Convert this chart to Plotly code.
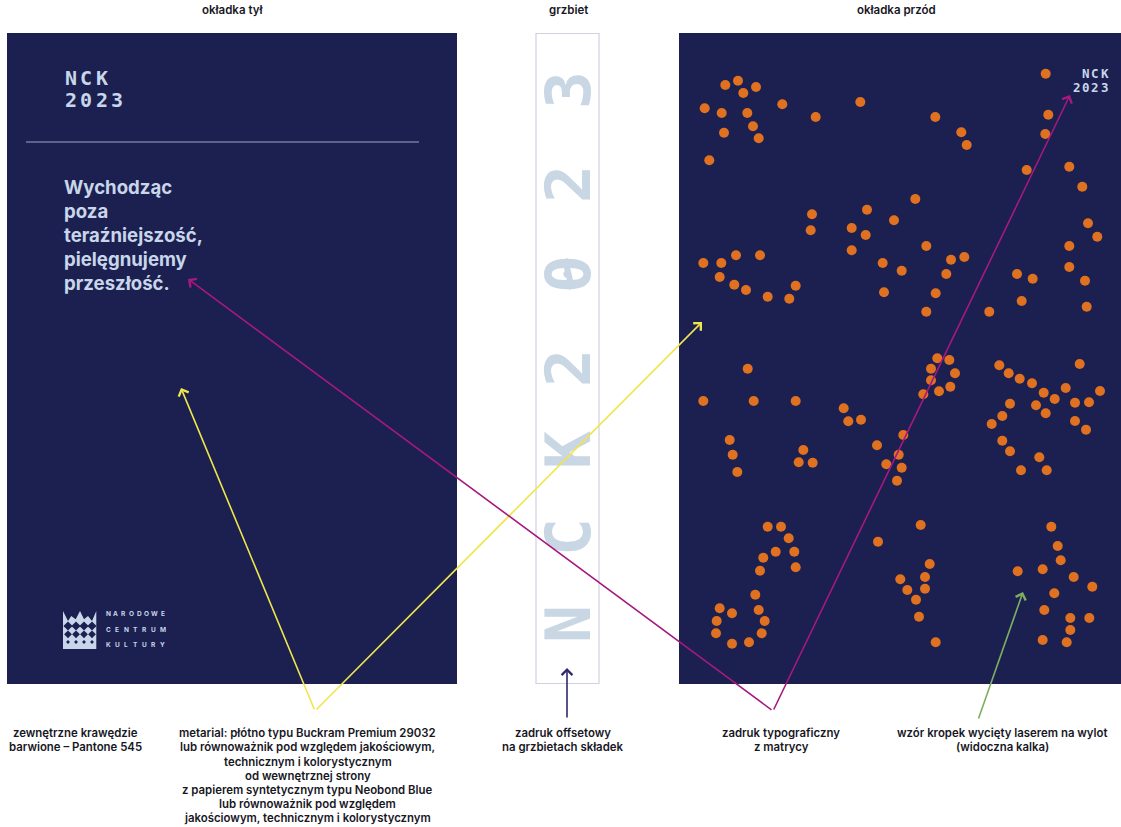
import plotly.graph_objects as go

dots_x = [725.3,738,756,743.3,704.7,721.7,747.3,782.3,815.7,860.3,753,724,758.7,709.3,935.3,961.3,966.7,1045.7,1048.3,1045.3,1026.7,1069.3,1082.3,915.3,867,894,851.7,865.7,851.7,812,810.7,1088,1097.3,1069.3,1069.3,1085,1086.7,926.3,964.3,951,946.3,935.7,926.3,989.3,882.7,901.7,884,1017,1032.7,1021.7,703.3,721.3,736,760,719.7,734.3,746,767.7,789.3,795.7,
 747.7,703.3,753.7,795.7,843.7,848.3,861,729.7,732.7,737.3,803.3,798.7,812.7,877,903.3,898.7,886.3,901.7,897,937.3,949.3,931,955,931,950.3,939,923.3,999.3,1008.7,1019.7,1032,1043.7,1054.7,1065.7,1079.7,1100,1075,1089,1036,1045.7,1010,1002.3,991.7,1075,1086,1002.3,1010,1021,1039.3,1046.7,
 767.7,781,788.7,775.7,794.3,763.3,760,795.7,755.3,719.7,732,758.7,764.7,716.7,716,761.7,732,749,
 920.7,878,929.7,925,925,900.3,907.3,916,919,935.7,
 1051.3,1057.7,1060.7,1042.7,1017.7,1073.7,1092.3,1054.3,1044.3,1070.3,1089.3,1070.3,1042.7,1066.7]
dots_y = [85,80.7,87,93,108.3,113,113,104.3,117,102,126.3,132.7,138.3,160.3,117,132.3,145,73.7,114.7,134,170,166.7,186.7,199,209.7,220.3,228,235,250.3,214.3,230.3,223.3,236.7,246,267,280.7,306.7,246,257,259.7,274,293.3,311.7,311.7,263,270.7,292.3,274,278.7,301,263,263,255.3,255.3,277,284.7,290,296.7,298.7,285.7,
 368.7,401,401,401,408.3,421.3,419.7,440,454.7,472,450,462.3,462.7,445.3,435,454.7,464.3,467.7,480.7,358.3,360,368.7,373.3,380.3,386.7,391.3,394.3,365.3,373.3,378.7,383.3,392.7,399,388,364,391,402.7,402.3,405.3,413.3,403.7,416,424,421,429.7,440.7,451.3,470.3,457.3,470.3,
 526.7,526.7,538.3,551.7,551.7,557.7,570.7,567.3,594.7,608.3,613.3,610,621,621,633.3,633.3,643.7,642.3,
 525,541.7,564,577,588.7,579.3,590,599.7,616.7,642.3,
 526.7,546,560.3,569.3,571.3,577,586.7,593.3,610,618,618,630,640,642.3]

headers = ["okładka tył", "grzbiet", "okładka przód"]
header_x = [232, 568, 896]
notes = [
    ["zewnętrzne krawędzie", "barwione – Pantone 545"],
    ["metarial: płótno typu Buckram Premium 29032", "lub równoważnik pod względem jakościowym,",
     "technicznym i kolorystycznym", "od wewnętrznej strony",
     "z papierem syntetycznym typu Neobond Blue", "lub równoważnik pod względem",
     "jakościowym, technicznym i kolorystycznym"],
    ["zadruk offsetowy", "na grzbietach składek"],
    ["zadruk typograficzny", "z matrycy"],
    ["wzór kropek wycięty laserem na wylot", "(widoczna kalka)"],
]
note_x = [75.5, 307.5, 563, 781, 1002.5]
note_line_y = [733, 747, 761.5, 775.5, 789.5, 803.5, 817.5]
tagline = ["Wychodząc", "poza", "teraźniejszość,", "pielęgnujemy", "przeszłość."]
tagline_y = [187, 211, 234.5, 258.5, 283]
spine_letters = ["N", "C", "K", "2", "0", "2", "3"]
spine_y = [624, 537, 450, 368, 274, 184, 90]
logo_words = ["NARODOWE", "CENTRUM", "KULTURY"]
logo_word_y = [614, 630, 645]
logo_outline_x = [63, 68, 71.3, 75.7, 80, 84, 88, 92, 96.3, 96.3, 63, 63]
logo_outline_y = [611, 621, 616, 619.3, 611, 619.3, 616, 621, 611, 649, 649, 611]
logo_hole_x = [68, 76, 84, 92]
logo_hole_rows = [626, 634.3, 642]
logo_hole_sizes = [7, 6, 3]

arrows = [
    ("#F0E64B", [(315, 711), (181, 388)]),
    ("#F0E64B", [(315, 711), (702, 322)]),
    ("#A6197F", [(773, 711), (188, 279)]),
    ("#A6197F", [(773, 711), (1070, 95)]),
    ("#7FAE60", [(978, 720), (1023, 592)]),
    ("#2D2A70", [(567, 719), (567, 668)]),
]

NAVY = "#1B2050"
PALE = "#C9D6EA"
SPINE = "#C9D6E4"
INK = "#17171F"
SANS = "Inter"
MONO = "DejaVu Sans Mono"

fig = go.Figure()
shapes = [
    dict(type="rect", x0=7, x1=457, y0=33, y1=684, fillcolor=NAVY, line_width=0, layer="below"),
    dict(type="rect", x0=679, x1=1121, y0=33, y1=684, fillcolor=NAVY, line_width=0, layer="below"),
    dict(type="rect", x0=536, x1=599, y0=33.5, y1=683.5, fillcolor="white",
         line=dict(color="#CDD2E2", width=1.2), layer="below"),
    dict(type="line", x0=26, x1=419, y0=142, y1=142, line=dict(color="#74789E", width=1.4), layer="below"),
    dict(type="line", x0=565, x1=572, y0=259, y1=289, line=dict(color=SPINE, width=6), layer="above"),
]
fig.add_trace(go.Scatter(x=logo_outline_x, y=logo_outline_y, mode="lines", fill="toself",
                         fillcolor=PALE, line=dict(width=0), hoverinfo="skip"))
for row, size in zip(logo_hole_rows, logo_hole_sizes):
    fig.add_trace(go.Scatter(x=logo_hole_x, y=[row] * 4, mode="markers", hoverinfo="skip",
                             marker=dict(symbol="diamond", size=size, color=NAVY)))
fig.add_trace(go.Scatter(x=dots_x, y=dots_y, mode="markers", hoverinfo="skip",
                         marker=dict(size=10, color="#DF7120", line_width=0)))

ann = []
def text(x, y, s, size, color=INK, weight=600, family=SANS, xanchor="center", yanchor="middle", angle=0, align="center"):
    ann.append(dict(x=x, y=y, xref="x", yref="y", text=s, showarrow=False, textangle=angle,
                    xanchor=xanchor, yanchor=yanchor, align=align,
                    font=dict(family=family, size=size, color=color, weight=weight)))

def tracked(x0, y, s, pitch, size, color=PALE, family=MONO, weight=700):
    for i, ch in enumerate(s):
        text(x0 + i * pitch, y, ch, size, color=color, family=family, weight=weight)

for s, x in zip(headers, header_x):
    text(x, 10, s, 11.5)
for lines, x in zip(notes, note_x):
    for s, y in zip(lines, note_line_y):
        text(x, y, s, 11.4)

tracked(70.5, 78, "NCK", 15.6, 20)
tracked(70.5, 100, "2023", 15.6, 20)
tracked(1086, 73, "NCK", 9.4, 12.5)
tracked(1076.5, 87, "2023", 9.4, 12.5)
for s, y in zip(tagline, tagline_y):
    text(62, y, s, 18.6, color=PALE, weight=700, xanchor="left")
for word, y in zip(logo_words, logo_word_y):
    tracked(108, y, word, 54.5 / (len(word) - 1), 6.5, family=SANS)
for s, y in zip(spine_letters, spine_y):
    text(568, y, s, 63, color=SPINE, family=MONO, weight=700, angle=-90)

for color, pts in arrows:
    for (a, b) in zip(pts[:-1], pts[1:]):
        ann.append(dict(x=b[0], y=b[1], ax=a[0], ay=a[1], xref="x", yref="y", axref="x", ayref="y",
                        text="", showarrow=True, arrowhead=4, arrowsize=1.3, arrowwidth=1.6,
                        arrowcolor=color, standoff=0))

fig.update_layout(
    width=1121, height=827, margin=dict(l=0, r=0, t=0, b=0), showlegend=False,
    paper_bgcolor="white", plot_bgcolor="white", shapes=shapes, annotations=ann,
    xaxis=dict(range=[0, 1121], visible=False, fixedrange=True),
    yaxis=dict(range=[827, 0], visible=False, fixedrange=True),
)
fig.write_html("out.html", config=dict(displayModeBar=False),
               post_script="document.body.style.margin='0';document.body.style.overflow='hidden';")
